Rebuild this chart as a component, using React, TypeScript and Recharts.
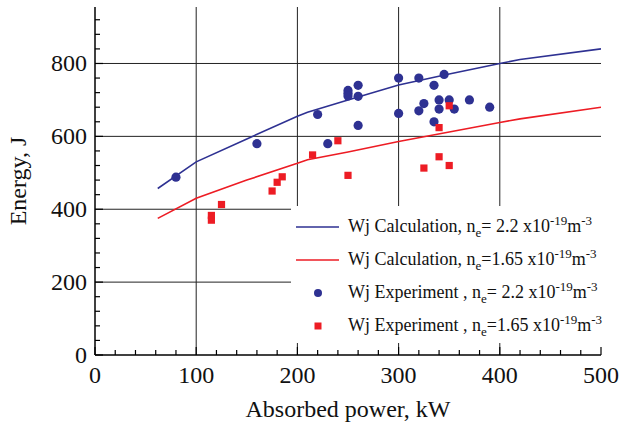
import { ComposedChart, Line, Scatter, XAxis, YAxis, ReferenceLine, Legend } from 'recharts'

const BLUE = '#2e3192'
const RED = '#ed1c24'
const FONT = '"Liberation Serif", serif'

// calculated curves
const calcPower = [62, 100, 150, 200, 210, 250, 300, 350, 400, 420, 500]
const calcEnergyHigh = [457, 530, 593, 655, 666, 700, 741, 771, 800, 811, 840]
const calcEnergyLow = [375, 430, 480, 526, 536, 557, 586, 612, 638, 648, 680]

// experiment, ne = 2.2
const expHighPower = [80, 160, 220, 230, 250, 250, 250, 260, 260, 260, 300, 300, 320, 320, 325, 335, 335, 340, 340, 345, 350, 355, 370, 390]
const expHighEnergy = [488, 580, 660, 580, 726, 718, 711, 740, 710, 630, 760, 663, 760, 670, 690, 740, 640, 700, 675, 770, 700, 675, 700, 680]

// experiment, ne = 1.65
const expLowPower = [115, 115, 125, 175, 180, 185, 215, 240, 250, 325, 340, 340, 350, 350]
const expLowEnergy = [383, 370, 413, 450, 474, 489, 549, 588, 493, 513, 544, 624, 684, 520]

const xTicks = Array.from({ length: 26 }, (_, i) => i * 20)
const yTicks = Array.from({ length: 24 }, (_, i) => i * 40)
const xGrid = [100, 200, 300, 400]
const yGrid = [200, 400, 600, 800]

const zip = (xs: number[], ys: number[]) => xs.map((x, i) => ({ x, y: ys[i] }))
const calcHigh = zip(calcPower, calcEnergyHigh)
const calcLow = zip(calcPower, calcEnergyLow)
const expHigh = zip(expHighPower, expHighEnergy)
const expLow = zip(expLowPower, expLowEnergy)

const BottomTick = ({ x, y, payload }: any) => {
  const major = payload.value % 100 === 0
  return (
    <g>
      <line x1={x} x2={x} y1={y} y2={y - (major ? 8 : 5)} stroke="#000" strokeWidth={1.2} />
      {major && (
        <text x={x} y={y + 28} textAnchor="middle" style={{ fontFamily: FONT }} fontSize={24} fill="#111">
          {payload.value}
        </text>
      )}
    </g>
  )
}

const TopTick = ({ x, y, payload }: any) => {
  const major = payload.value % 100 === 0
  return <line x1={x} x2={x} y1={y} y2={y + (major ? 8 : 5)} stroke="#000" strokeWidth={1.2} />
}

const LeftTick = ({ x, y, payload }: any) => {
  const major = payload.value % 200 === 0
  return (
    <g>
      <line x1={x} x2={x + (major ? 8 : 5)} y1={y} y2={y} stroke="#000" strokeWidth={1.2} />
      {major && (
        <text x={x - 8} y={y + 8} textAnchor="end" style={{ fontFamily: FONT }} fontSize={24} fill="#111">
          {payload.value}
        </text>
      )}
    </g>
  )
}

const RightTick = ({ x, y, payload }: any) => {
  const major = payload.value % 200 === 0
  return <line x1={x} x2={x - (major ? 8 : 5)} y1={y} y2={y} stroke="#000" strokeWidth={1.2} />
}

const Dot = ({ cx, cy }: any) => <circle cx={cx} cy={cy} r={4.6} fill={BLUE} />
const Square = ({ cx, cy }: any) => <rect x={cx - 3.6} y={cy - 3.6} width={7.2} height={7.2} fill={RED} />

const legendRows = [
  { kind: 'line', color: BLUE, name: 'Wj Calculation, n', val: '= 2.2 x10' },
  { kind: 'line', color: RED, name: 'Wj Calculation, n', val: '=1.65 x10' },
  { kind: 'dot', color: BLUE, name: 'Wj Experiment , n', val: '= 2.2 x10' },
  { kind: 'square', color: RED, name: 'Wj Experiment , n', val: '=1.65 x10' },
]

const LegendBox = () => (
  <div style={{ paddingTop: 4, fontFamily: FONT, fontSize: 18, color: '#111' }}>
    {legendRows.map((r, i) => (
      <div key={i} style={{ height: 33, display: 'flex', alignItems: 'center', whiteSpace: 'nowrap' }}>
        <svg width={57} height={20} style={{ flex: 'none' }}>
          {r.kind === 'line' && <line x1={5} x2={48} y1={10} y2={10} stroke={r.color} strokeWidth={1.6} />}
          {r.kind === 'dot' && <circle cx={27} cy={10} r={4} fill={r.color} />}
          {r.kind === 'square' && <rect x={23.5} y={6.5} width={7} height={7} fill={r.color} />}
        </svg>
        <span>
          {r.name}
          <sub style={{ fontSize: 13 }}>e</sub>
          {r.val}
          <sup style={{ fontSize: 13 }}>-19</sup>m<sup style={{ fontSize: 13 }}>-3</sup>
        </span>
      </div>
    ))}
  </div>
)

export default function App() {
  return (
    <div style={{ position: 'absolute', left: 0, top: 0, background: '#fff', fontFamily: FONT }}>
      <ComposedChart width={630} height={430} margin={{ top: 7, right: 29, left: 0, bottom: 0 }} style={{ fontFamily: FONT }}>
        <XAxis
          type="number"
          dataKey="x"
          domain={[0, 500]}
          ticks={xTicks}
          interval={0}
          allowDataOverflow
          height={75}
          tickSize={0}
          tickMargin={0}
          tickLine={false}
          axisLine={{ stroke: '#000', strokeWidth: 1.5 }}
          tick={(p: any) => <BottomTick {...p} />}
          label={{ value: 'Absorbed power, kW', position: 'insideBottom', offset: 13, fontSize: 24, fill: '#111', style: { fontFamily: FONT } }}
        />
        <XAxis
          xAxisId="top"
          orientation="top"
          type="number"
          domain={[0, 500]}
          ticks={xTicks}
          interval={0}
          allowDataOverflow
          height={0}
          tickSize={0}
          tickMargin={0}
          tickLine={false}
          axisLine={{ stroke: '#000', strokeWidth: 1.5 }}
          tick={(p: any) => <TopTick {...p} />}
        />
        <YAxis
          type="number"
          dataKey="y"
          domain={[0, 955]}
          ticks={yTicks}
          interval={0}
          allowDataOverflow
          width={95}
          tickSize={0}
          tickMargin={0}
          tickLine={false}
          axisLine={{ stroke: '#000', strokeWidth: 1.5 }}
          tick={(p: any) => <LeftTick {...p} />}
          label={{ value: 'Energy, J', angle: -90, position: 'insideLeft', offset: 17, fontSize: 24, fill: '#111', style: { textAnchor: 'middle', fontFamily: FONT } }}
        />
        <YAxis
          yAxisId="right"
          orientation="right"
          type="number"
          domain={[0, 955]}
          ticks={yTicks}
          interval={0}
          allowDataOverflow
          width={0}
          tickSize={0}
          tickMargin={0}
          tickLine={false}
          axisLine={{ stroke: '#000', strokeWidth: 1.5 }}
          tick={(p: any) => <RightTick {...p} />}
        />
        {xGrid.map(v => (
          <ReferenceLine key={`vx${v}`} x={v} stroke="#222" strokeWidth={1} />
        ))}
        {yGrid.map(v => (
          <ReferenceLine key={`hy${v}`} y={v} stroke="#222" strokeWidth={1} />
        ))}
        <Line data={calcHigh} dataKey="y" type="linear" stroke={BLUE} strokeWidth={1.6} dot={false} isAnimationActive={false} />
        <Line data={calcLow} dataKey="y" type="linear" stroke={RED} strokeWidth={1.6} dot={false} isAnimationActive={false} />
        <Scatter data={expHigh} dataKey="y" shape={(p: any) => <Dot {...p} />} isAnimationActive={false} />
        <Scatter data={expLow} dataKey="y" shape={(p: any) => <Square {...p} />} isAnimationActive={false} />
        <Legend
          layout="vertical"
          align="center"
          verticalAlign="middle"
          wrapperStyle={{ left: 291, top: 206, width: 312, height: 137, backgroundColor: '#fff' }}
          content={() => <LegendBox />}
        />
      </ComposedChart>
    </div>
  )
}
